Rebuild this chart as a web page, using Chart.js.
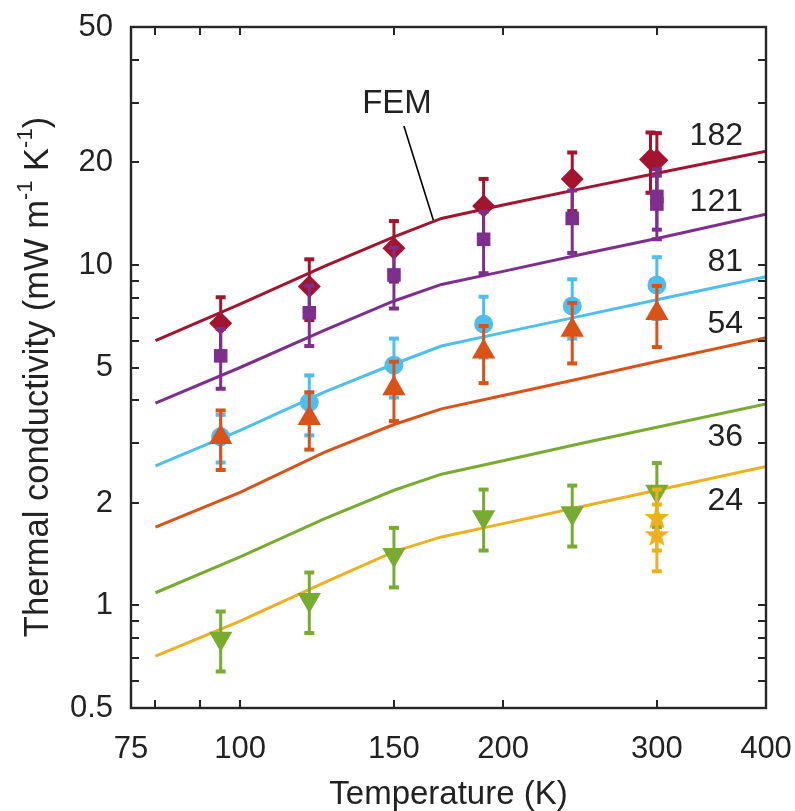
<!DOCTYPE html>
<html>
<head>
<meta charset="utf-8">
<script src="https://cdn.jsdelivr.net/npm/chart.js@4.4.1/dist/chart.umd.min.js"></script>
<style>
  html, body { margin: 0; padding: 0; background: #ffffff; }
  #wrap { width: 795px; height: 811px; position: relative; }
</style>
</head>
<body>
<div id="wrap"><canvas id="c" width="795" height="811"></canvas></div>
<script>
// ---- FEM model curves (thermal conductivity, mW m^-1 K^-1) ----
const femTemps = [80, 100, 125, 150, 170, 200, 250, 300, 400];
const fem182 = [6.00, 7.68, 9.93, 12.1, 13.7, 15.0, 16.9, 18.6, 21.6];
const fem121 = [3.93, 5.00, 6.44, 7.84, 8.77, 9.58, 10.85, 11.96, 14.1];
const fem81  = [2.57, 3.27, 4.24, 5.12, 5.78, 6.33, 7.15, 7.91, 9.24];
const fem54  = [1.70, 2.15, 2.82, 3.40, 3.78, 4.14, 4.69, 5.21, 6.12];
const fem36  = [1.09, 1.39, 1.80, 2.18, 2.43, 2.66, 3.02, 3.34, 3.91];
const fem24  = [0.71, 0.90, 1.17, 1.44, 1.59, 1.74, 1.97, 2.18, 2.56];

// ---- measurements with error bars ----
const t182 = [95, 120, 150, 190, 240, 295, 300];
const k182 = [6.74, 8.64, 11.2, 14.9, 17.9, 20.4, 20.3];
const e182 = [1.3, 1.75, 2.26, 3.0, 3.5, 4.1, 4.1];

const t121 = [95, 120, 150, 190, 240, 300, 300];
const k121 = [5.41, 7.24, 9.35, 11.9, 13.7, 15.9, 15.1];
const e121 = [1.08, 1.46, 1.9, 2.44, 2.85, 3.2, 3.2];

const t81 = [95, 120, 150, 190, 240, 300];
const k81 = [3.13, 3.95, 5.08, 6.71, 7.58, 8.74];
const e81 = [0.5, 0.79, 1.0, 1.36, 1.5, 1.8];

const t54 = [95, 120, 150, 190, 240, 300];
const k54 = [3.12, 3.55, 4.34, 5.56, 6.44, 7.21];
const e54 = [0.62, 0.68, 0.86, 1.06, 1.3, 1.47];

const t36 = [95, 120, 150, 190, 240, 300];
const k36 = [0.80, 1.04, 1.41, 1.82, 1.87, 2.16];
const e36 = [0.16, 0.21, 0.28, 0.37, 0.38, 0.46];

const t24 = [300, 300];
const k24 = [1.82, 1.62];
const e24 = [0.37, 0.36];

// ---- axes ----
const xTicks = [75, 80, 90, 100, 150, 200, 300, 400];
const xLabels = [75, 100, 150, 200, 300, 400];
const yTicks = [0.5, 0.6, 0.7, 0.8, 0.9, 1, 2, 3, 4, 5, 6, 7, 8, 9, 10, 20, 30, 40, 50];
const yLabels = [0.5, 1, 2, 5, 10, 20, 50];

// curve names shown at the right-hand end
const curveNames = ['182', '121', '81', '54', '36', '24'];

// pointer from the "FEM" caption to the top curve
const femPointerT = [154, 166.4];
const femPointerK = [25.6, 13.56];

const C = {
  red: '#A2142F', purple: '#7E2F8E', cyan: '#4DBEEE',
  orange: '#D95319', green: '#77AC30', yellow: '#EDB120'
};
const FONT = '"Liberation Sans", Arial, Helvetica, sans-serif';
const TEXT = '#222222';
const AXIS = '#262626';

const pts = (xs, ys) => xs.map((x, i) => ({ x: x, y: ys[i] }));

function starImage(color, r) {
  const s = Math.ceil(r * 2 + 2);
  const c = document.createElement('canvas');
  c.width = s; c.height = s;
  const g = c.getContext('2d');
  g.fillStyle = color;
  g.beginPath();
  for (let k = 0; k < 10; k++) {
    const rr = (k % 2) ? r * 0.42 : r;
    const a = -Math.PI / 2 + k * Math.PI / 5;
    g.lineTo(s / 2 + rr * Math.cos(a), s / 2 + rr * Math.sin(a) + r * 0.1);
  }
  g.closePath();
  g.fill();
  return c;
}

function femLine(data, color) {
  return {
    type: 'line', data: pts(femTemps, data), borderColor: color, borderWidth: 3,
    pointRadius: 0, showLine: true, fill: false, tension: 0, order: 50
  };
}
function measured(ts, ks, es, color, style, radius, order, rotation) {
  return {
    type: 'scatter', data: pts(ts, ks), errors: es, showLine: false,
    pointStyle: style, pointRadius: radius, pointHoverRadius: radius,
    pointRotation: rotation || 0,
    pointBackgroundColor: color, pointBorderColor: color, pointBorderWidth: 0,
    borderColor: color, backgroundColor: color, order: order
  };
}

const datasets = [
  femLine(fem182, C.red), femLine(fem121, C.purple), femLine(fem81, C.cyan),
  femLine(fem54, C.orange), femLine(fem36, C.green), femLine(fem24, C.yellow),
  {
    type: 'line', data: pts(femPointerT, femPointerK), borderColor: '#000000',
    borderWidth: 1.6, pointRadius: 0, showLine: true, fill: false, order: 40
  },
  measured(t182, k182, e182, C.red, 'rectRot', 11.5, 16),
  measured(t121, k121, e121, C.purple, 'rect', 9.6, 15),
  measured(t81, k81, e81, C.cyan, 'circle', 9.5, 14),
  measured(t54, k54, e54, C.orange, 'triangle', 13.5, 13),
  measured(t36, k36, e36, C.green, 'triangle', 13.5, 12, 180),
  measured(t24, k24, e24, C.yellow, starImage(C.yellow, 13), 13, 11)
];

// vertical error bars with flat caps, drawn just under each dataset's markers
const errorBars = {
  id: 'errorBars',
  beforeDatasetDraw(chart, args) {
    const ds = chart.data.datasets[args.index];
    if (!ds.errors) return;
    const xs = chart.scales.x, ys = chart.scales.y, ctx = chart.ctx;
    ctx.save();
    ctx.strokeStyle = ds.borderColor;
    ctx.fillStyle = ds.borderColor;
    ctx.lineWidth = 3;
    ds.data.forEach((p, i) => {
      const e = ds.errors[i];
      const px = xs.getPixelForValue(p.x);
      const yt = ys.getPixelForValue(p.y + e);
      const yb = ys.getPixelForValue(p.y - e);
      ctx.beginPath();
      ctx.moveTo(px, yt);
      ctx.lineTo(px, yb);
      ctx.stroke();
      ctx.fillRect(px - 5, yt - 2, 10, 4);
      ctx.fillRect(px - 5, yb - 2, 10, 4);
    });
    ctx.restore();
  }
};

// box frame with inward tick marks on all four sides
const frame = {
  id: 'frame',
  afterDatasetsDraw(chart) {
    const { ctx, chartArea: a } = chart;
    const xs = chart.scales.x, ys = chart.scales.y;
    const len = 8;
    ctx.save();
    ctx.strokeStyle = AXIS;
    ctx.lineWidth = 2;
    ctx.beginPath();
    xTicks.forEach(v => {
      const px = Math.round(xs.getPixelForValue(v));
      ctx.moveTo(px, a.bottom); ctx.lineTo(px, a.bottom - len);
      ctx.moveTo(px, a.top); ctx.lineTo(px, a.top + len);
    });
    yTicks.forEach(v => {
      const py = Math.round(ys.getPixelForValue(v));
      ctx.moveTo(a.left, py); ctx.lineTo(a.left + len, py);
      ctx.moveTo(a.right, py); ctx.lineTo(a.right - len, py);
    });
    ctx.stroke();
    ctx.lineWidth = 2.4;
    ctx.strokeRect(a.left, a.top, a.right - a.left, a.bottom - a.top);
    ctx.restore();
  }
};

// curve names, "FEM" caption and the rotated y-axis title with superscripts
const annotations = {
  id: 'annotations',
  afterDraw(chart) {
    const { ctx, chartArea: a } = chart;
    ctx.save();
    ctx.fillStyle = TEXT;
    ctx.textBaseline = 'middle';

    ctx.font = '32px ' + FONT;
    ctx.textAlign = 'right';
    const nameY = [135.8, 201.7, 262.5, 324.2, 437.5, 500.8];
    curveNames.forEach((n, i) => ctx.fillText(n, a.right - 23, nameY[i]));

    ctx.textAlign = 'center';
    ctx.font = '33px ' + FONT;
    ctx.fillText('FEM', 397, 104);

    // y-axis title
    const main = '34.5px ' + FONT, sup = '22px ' + FONT;
    const parts = [
      ['Thermal conductivity (mW m', main, 0],
      ['-1', sup, -12],
      [' K', main, 0],
      ['-1', sup, -12],
      [')', main, 0]
    ];
    let total = 0;
    parts.forEach(p => { ctx.font = p[1]; total += ctx.measureText(p[0]).width; });
    ctx.translate(38, 377);
    ctx.rotate(-Math.PI / 2);
    ctx.textAlign = 'left';
    let x = -total / 2;
    parts.forEach(p => {
      ctx.font = p[1];
      ctx.fillText(p[0], x, p[2]);
      x += ctx.measureText(p[0]).width;
    });
    ctx.restore();
  }
};

new Chart(document.getElementById('c'), {
  type: 'scatter',
  data: { datasets: datasets },
  options: {
    responsive: false,
    animation: false,
    devicePixelRatio: 1,
    layout: { padding: { top: 27, right: 29, left: 0, bottom: 0 } },
    plugins: { legend: { display: false }, tooltip: { enabled: false } },
    scales: {
      x: {
        type: 'logarithmic', min: 75, max: 400,
        afterBuildTicks: s => { s.ticks = xTicks.map(v => ({ value: v })); },
        afterFit: s => { s.height = 103; s.paddingLeft = 0; s.paddingRight = 0; },
        grid: { display: false, drawTicks: false, tickLength: 0 },
        border: { display: false },
        ticks: {
          autoSkip: false, maxRotation: 0, padding: 23, color: TEXT,
          font: { family: FONT, size: 31 },
          callback: v => (xLabels.includes(v) ? String(v) : '')
        },
        title: {
          display: true, text: 'Temperature (K)', color: TEXT,
          font: { family: FONT, size: 33, lineHeight: 1.0 },
          padding: { top: 0, bottom: 0 }
        }
      },
      y: {
        type: 'logarithmic', min: 0.5, max: 50,
        afterBuildTicks: s => { s.ticks = yTicks.map(v => ({ value: v })); },
        afterFit: s => { s.width = 131; s.paddingTop = 0; s.paddingBottom = 0; },
        grid: { display: false, drawTicks: false, tickLength: 0 },
        border: { display: false },
        ticks: {
          autoSkip: false, padding: 18, color: TEXT,
          font: { family: FONT, size: 31 },
          callback: v => (yLabels.includes(v) ? String(v) : '')
        }
      }
    }
  },
  plugins: [errorBars, frame, annotations]
});
</script>
</body>
</html>
